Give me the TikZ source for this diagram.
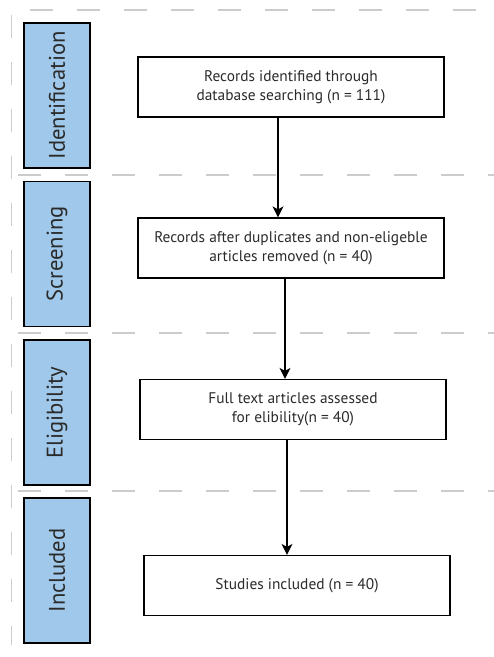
\documentclass[tikz,border=0pt]{standalone}
\usepackage{fontspec}
\setmainfont{PT Sans}
\usetikzlibrary{arrows.meta}
\definecolor{phaseblue}{HTML}{9FC8EA}
\definecolor{dashgray}{HTML}{CCCCCC}
\definecolor{txtgray}{HTML}{2A2A2A}
\begin{document}
\begin{tikzpicture}[x=1pt,y=-1pt,
  sep/.style={draw=dashgray,line width=1.2pt,dash pattern=on 23pt off 24pt},
  phase/.style={draw=black,fill=phaseblue,line width=1.2pt,minimum width=66pt,minimum height=145pt,inner sep=0pt},
  phasetxt/.style={rotate=90,font=\fontsize{22.6}{26}\selectfont,text=txtgray},
  stepbox/.style={draw=black,line width=1.2pt,minimum width=306pt,minimum height=60pt,inner sep=0pt,align=center,font=\fontsize{15.4}{19}\selectfont,text=txtgray},
  flow/.style={line width=1.3pt,-{Stealth[length=11pt,width=11pt,inset=3pt]}}]
\useasboundingbox (0,0) rectangle (494,657);
% dashed guides
\draw[sep] (30,10) -- (494,10);
\draw[sep] (18,175) -- (494,175);
\draw[sep] (18,333) -- (494,333);
\draw[sep] (18,491) -- (494,491);
\draw[sep] (11.5,15) -- (11.5,645);
% phase boxes
\node[phase] (pid) at (57,95.5) {};
\node[phasetxt] at (pid.center) {Identification};
\node[phase] (psc) at (57,254) {};
\node[phasetxt] at (psc.center) {Screening};
\node[phase] (pel) at (57,412.5) {};
\node[phasetxt] at (pel.center) {Eligibility};
\node[phase] (pin) at (57,570.5) {};
\node[phasetxt] at (pin.center) {Included};
% steps
\node[stepbox] (b1) at (291,87) {Records identified through\\database searching (n = 111)};
\node[stepbox] (b2) at (291,248) {Records after duplicates and non-eligeble\\articles removed (n = 40)};
\node[stepbox] (b3) at (293,409.5) {Full text articles assessed\\for elibility(n = 40)};
\node[stepbox] (b4) at (297,585.5) {Studies included (n = 40)};
% connectors
\draw[flow] (b1.south -| 278,0) -- (b2.north -| 278,0);
\draw[flow] (b2.south -| 285,0) -- (b3.north -| 285,0);
\draw[flow] (b3.south -| 287,0) -- (b4.north -| 287,0);
\end{tikzpicture}
\end{document}
